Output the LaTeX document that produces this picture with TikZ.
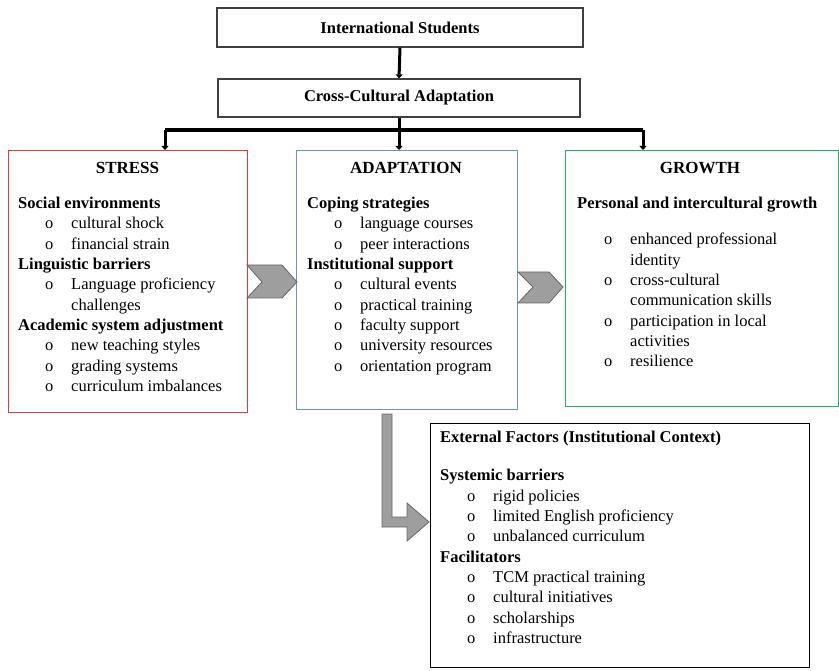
\documentclass[tikz,border=0pt]{standalone}
\usepackage{fontspec}
\setmainfont{Liberation Serif}
\usetikzlibrary{arrows.meta}

\tikzset{
  box/.style={draw, line width=1pt, anchor=north west, inner sep=0pt},
  headbox/.style={draw=black!75, line width=1.2pt, font=\fontsize{16.5}{20}\selectfont\bfseries, inner sep=0pt},
  ttl/.style={font=\fontsize{17}{20}\selectfont\bfseries},
  lst/.style={anchor=north west, align=left, inner sep=0pt},
  link/.style={line width=3pt, -{Triangle[length=4pt,width=7pt]}},
  bar/.style={line width=4pt},
  chevron/.style={fill=black!38, draw=black!60, line width=0.8pt},
}
\definecolor{stressred}{HTML}{E53935}
\definecolor{adaptblue}{HTML}{6F8FD3}
\definecolor{growgreen}{HTML}{22B562}

\newcommand{\itm}[1]{\hspace*{27pt}\makebox[26pt][l]{o}#1}
\newcommand{\cont}[1]{\hspace*{53pt}#1}

\begin{document}
\begin{tikzpicture}[x=1pt, y=-1pt, font=\fontsize{16.5}{20.3}\selectfont]
\useasboundingbox (0,0) rectangle (839,671);

% top of the chart
\node[headbox, minimum width=366pt, minimum height=39pt] (intl) at (400,27.5) {International Students};
\node[headbox, minimum width=362pt, minimum height=38pt] (cca) at (399,98) {Cross-Cultural Adaptation};

% the three stages
\node[box, draw=stressred, minimum width=239pt, minimum height=262pt] (stress) at (8,150) {};
\node[box, draw=adaptblue, minimum width=221pt, minimum height=259pt] (adapt) at (296,150) {};
\node[box, draw=growgreen, minimum width=273pt, minimum height=256pt] (growth) at (565,150) {};
\node[box, draw=black, minimum width=379pt, minimum height=244pt] (ext) at (430,423) {};

\draw[link] (intl.south) -- (cca.north);
\coordinate (barL) at (165,130);
\coordinate (barR) at (643,130);
\draw[bar] (barL) -- (barR);
\draw[link] (cca.south) -- (cca.south |- adapt.north);
\draw[link] (barL) -- (barL |- stress.north);
\draw[link] (barR) -- (barR |- growth.north);

% titles
\node[ttl] (stressT) at (127.5,168) {STRESS};
\node[ttl] (adaptT) at (406,168) {ADAPTATION};
\node[ttl] (growthT) at (700,168) {GROWTH};

% contents
\node[lst] (stressL) at (18,197) {\textbf{Social environments}\\
  \itm{cultural shock}\\
  \itm{financial strain}\\
  \textbf{Linguistic barriers}\\
  \itm{Language proficiency}\\
  \cont{challenges}\\
  \textbf{Academic system adjustment}\\
  \itm{new teaching styles}\\
  \itm{grading systems}\\
  \itm{curriculum imbalances}};

\node[lst] (adaptL) at (307,197) {\textbf{Coping strategies}\\
  \itm{language courses}\\
  \itm{peer interactions}\\
  \textbf{Institutional support}\\
  \itm{cultural events}\\
  \itm{practical training}\\
  \itm{faculty support}\\
  \itm{university resources}\\
  \itm{orientation program}};

\node[lst] (growthL) at (577,197) {\textbf{Personal and intercultural growth}\\[16pt]
  \itm{enhanced professional}\\
  \cont{identity}\\
  \itm{cross-cultural}\\
  \cont{communication skills}\\
  \itm{participation in local}\\
  \cont{activities}\\
  \itm{resilience}};

\node[lst] (extL) at (440,431) {\textbf{External Factors (Institutional Context)}\\[18pt]
  \textbf{Systemic barriers}\\
  \itm{rigid policies}\\
  \itm{limited English proficiency}\\
  \itm{unbalanced curriculum}\\
  \textbf{Facilitators}\\
  \itm{TCM practical training}\\
  \itm{cultural initiatives}\\
  \itm{scholarships}\\
  \itm{infrastructure}};

% gray arrows between the boxes
\filldraw[chevron] (247,265) -- (282,265) -- (297,282) -- (282,298) -- (247,298) -- (262,282) -- cycle;
\filldraw[chevron] (518,272) -- (549,272) -- (563,287) -- (549,303) -- (518,303) -- (533,287) -- cycle;
\filldraw[chevron] (382,414) -- (392,414) -- (392,517) -- (407,517) -- (407,503) -- (429,522)
  -- (407,541) -- (407,527) -- (382,527) -- cycle;
\end{tikzpicture}
\end{document}
